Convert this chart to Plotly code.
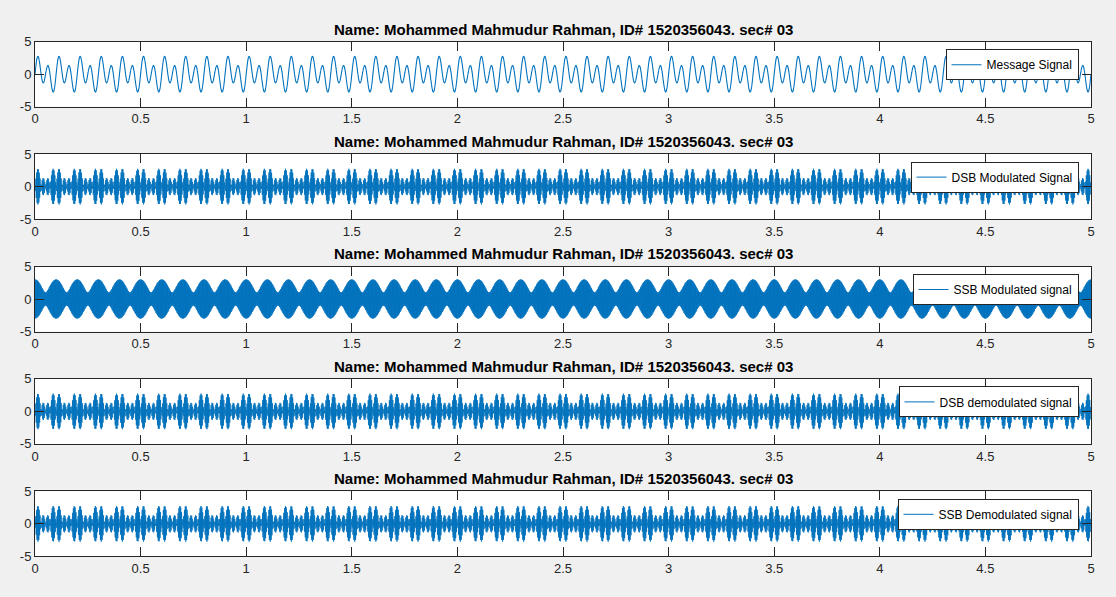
import numpy as np
import plotly.graph_objects as go

W, H = 1116, 597

# ---- values ----
title_text = "Name: Mohammed Mahmudur Rahman, ID# 1520356043. sec# 03"
legend_names = ["Message Signal", "DSB Modulated Signal", "SSB Modulated signal",
                "DSB demodulated signal", "SSB Demodulated signal"]
msg_amplitudes = [1.0, 2.0]        # sine components of the message
msg_freqs_hz = [10.0, 20.0]
carrier_freq_hz = 250.0
sample_rate_hz = 10000.0
t_end = 5.0
x_ticks = [0, 0.5, 1, 1.5, 2, 2.5, 3, 3.5, 4, 4.5, 5]
x_tick_labels = ["0", "0.5", "1", "1.5", "2", "2.5", "3", "3.5", "4", "4.5", "5"]
y_ticks = [-5, 0, 5]
y_tick_labels = ["-5", "0", "5"]

# ---- signals ----
t = np.arange(0, t_end + 1e-9, 1.0 / sample_rate_hz)
wc = 2 * np.pi * carrier_freq_hz
m = sum(a * np.sin(2 * np.pi * f * t) for a, f in zip(msg_amplitudes, msg_freqs_hz))
mh = sum(-a * np.cos(2 * np.pi * f * t) for a, f in zip(msg_amplitudes, msg_freqs_hz))
dsb = m * np.cos(wc * t)
ssb = m * np.cos(wc * t) - mh * np.sin(wc * t)
dsb_demod = m * np.cos(wc * t)
ssb_demod = m * np.cos(wc * t + 0.3)
series = [m, dsb, ssb, dsb_demod, ssb_demod]

# ---- layout geometry (pixels) ----
x_left, x_right = 35, 1091
top0, spacing, height = 41.7, 112.4, 65.0
BLUE = "#0072BD"
DARK = "#262626"
FONT = "Liberation Sans, Arial, Helvetica, sans-serif"

fig = go.Figure()
layout = dict(
    width=W, height=H, margin=dict(l=0, r=0, t=0, b=0, pad=0, autoexpand=False),
    paper_bgcolor="#f0f0f0", plot_bgcolor="white",
    font=dict(family=FONT, color=DARK, size=13),
    showlegend=True, annotations=[],
)

for k, (name, y) in enumerate(zip(legend_names, series)):
    idx = "" if k == 0 else str(k + 1)
    top = top0 + spacing * k
    bot = top + height
    legend_id = "legend" + idx
    fig.add_trace(go.Scatter(
        x=t, y=np.round(y, 4), mode="lines", name=name,
        line=dict(color=BLUE, width=1.1 if k == 0 else 1.0, simplify=False),
        xaxis="x" + idx, yaxis="y" + idx, legend=legend_id,
        hoverinfo="skip",
    ))
    common = dict(
        tickmode="array", ticks="inside", ticklen=9, tickwidth=1, tickcolor=DARK,
        showline=True, linecolor=DARK, linewidth=1, mirror="ticks",
        showgrid=False, zeroline=False, automargin=False,
        tickfont=dict(size=13, color=DARK),
    )
    layout["xaxis" + idx] = dict(
        domain=[x_left / W, x_right / W], anchor="y" + idx, range=[0, t_end],
        tickvals=x_ticks, ticktext=x_tick_labels, **common,
    )
    layout["yaxis" + idx] = dict(
        domain=[1 - bot / H, 1 - top / H], anchor="x" + idx, range=[-5, 5],
        tickvals=y_ticks, ticktext=y_tick_labels, **common,
    )
    layout[legend_id] = dict(
        x=1078.5 / W, y=1 - (top + 7.5) / H, xanchor="right", yanchor="top",
        bgcolor="white", bordercolor=DARK, borderwidth=1,
        font=dict(size=12, color="black", family=FONT),
        itemwidth=30, tracegroupgap=0,
    )
    layout["annotations"].append(dict(
        text="<b>" + title_text + "</b>", xref="paper", yref="paper",
        x=(x_left + x_right) / 2 / W, y=1 - (top - 12.5) / H,
        xanchor="center", yanchor="middle", showarrow=False,
        font=dict(size=15, color="black", family=FONT),
    ))

fig.update_layout(**layout)
fig.write_html("out.html")
